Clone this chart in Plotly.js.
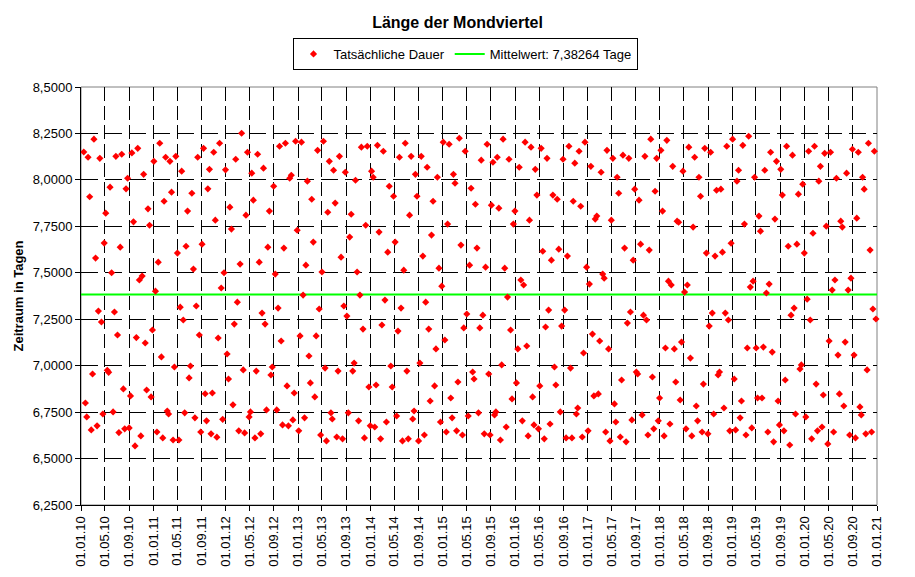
<!DOCTYPE html>
<html>
<head>
<meta charset="utf-8">
<script src="https://cdn.plot.ly/plotly-3.0.1.min.js"></script>
<style>
html,body{margin:0;padding:0;background:#ffffff;}
#chart{width:915px;height:577px;}
</style>
</head>
<body>
<div id="chart"></div>
<script>
// ---- Texts ----
const chartTitle = "Länge der Mondviertel";
const yAxisTitle = "Zeitraum in Tagen";
const seriesName = "Tatsächliche Dauer";
const meanValue = 7.38264;
const meanLabel = "Mittelwert: 7,38264 Tage";

// ---- Axis data ----
const axisStart = "2010-01-01";
const axisEnd = "2021-01-01";
const yMin = 6.25, yMax = 8.5, yStep = 0.25;
const firstQuarterDate = "2010-01-15";   // date of the first plotted quarter

// ---- Durations of consecutive moon quarters (days) ----
const durationsA = [8.150,6.799,6.724,8.122,7.909,6.654,6.955,8.219,7.579,6.676,7.294,8.116,7.235,6.740,7.660,7.821,6.975,6.964,7.961,7.500,6.751,7.289,8.127,7.165,6.640,7.638,8.138,6.875,6.660,7.952,8.009,6.665,6.837,8.145,7.774,6.568,7.151,8.170,7.461,6.622,7.482,8.030,7.122,6.869,7.844,7.756,6.832,7.192,8.100];
const durationsB = [7.401,6.643,7.557,8.197,7.047,6.611,7.885,8.122,6.756,6.740,8.100,7.934,6.600,6.993,8.127,7.606,6.600,7.315,8.047,7.246,6.746,7.643,7.832,6.934,6.998,7.928,7.520,6.719,7.321,8.122,7.165,6.643,7.654,8.170,6.849,6.703,7.952,8.057,6.633,6.853,8.149,7.783,6.615,7.149,8.197,7.418];
const durationsC = [6.711,7.500,8.054,7.063,6.928,7.853,7.735,6.789,7.224,8.111,7.342,6.649,7.547,8.251,6.977,6.638,7.810,8.149,6.724,6.751,8.036,7.891,6.611,6.971,8.138,7.557,6.633,7.283,8.063,7.224,6.762,7.638,7.832,6.950,6.993,7.966,7.493,6.762,7.310,8.181,7.133,6.681,7.633,8.197,6.891,6.676,8.009,8.025,6.708];
const durationsD = [6.853,8.208,7.729,6.649,7.160,8.203,7.380,6.719,7.541,7.993,7.052,6.907,7.896,7.665,6.832,7.160,8.159,7.305,6.627,7.504,8.208,6.987,6.595,7.826,8.100,6.746,6.713,8.052,7.875,6.616,6.971,8.127,7.584,6.606,7.321,8.041,7.267,6.746,7.692,7.815,6.971,7.014,7.998,7.504,6.703,7.380,8.176,7.197,6.611];
const durationsE = [7.756,8.181,6.885,6.676,8.047,8.014,6.670,6.896,8.186,7.719,6.606,7.219,8.154,7.353,6.697,7.611,7.966,6.998,6.885,7.912,7.665,6.729,7.186,8.122,7.310,6.595,7.514,8.197,6.971,6.606,7.810,8.127,6.713,6.756,8.030,7.912,6.595,7.014,8.127,7.590,6.627,7.342,8.068,7.197,6.810,7.703,7.885,6.891,7.090];
const durationsF = [8.014,7.525,6.697,7.428,8.203,7.138,6.643,7.762,8.192,6.826,6.719,8.030,7.982,6.649,6.912,8.224,7.649,6.627,7.203,8.154,7.278,6.729,7.541,7.955,6.966,6.928,7.869,7.633,6.746,7.203,8.106,7.272,6.633,7.530,8.192,6.955,6.627,7.864,8.095,6.735,6.751,8.122,7.848,6.600,7.004,8.219,7.525,6.670,7.369,8.111];
const durationsG = [7.192,6.821,7.762,7.832,6.907,7.090,8.068,7.461,6.703,7.434,8.203,7.106,6.622,7.783,8.176,6.832,6.681,8.057,7.918,6.660,6.891,8.170,7.616,6.606,7.208,8.116,7.299,6.686,7.568,7.918,6.993,6.896,7.896,7.627,6.751,7.213,8.111,7.299,6.611,7.590,8.181,6.987,6.611,7.885,8.090,6.740,6.772,8.154,7.858];
const durationsH = [6.616,7.068,8.203,7.530,6.649,7.439,8.073,7.170,6.837,7.789,7.805,6.848,7.133,8.041,7.493,7.471,6.643,8.159,7.090,6.595,7.783,8.116,6.794,6.697,8.014,7.928,6.616,6.923,8.133,7.633,6.590,7.229,8.116,7.289,6.708,7.568,7.950,6.966,6.955,7.891,7.654,6.735,7.272,8.127,7.246,6.627,7.622,8.219,6.939];
const durationsI = [6.660,7.939,8.116,6.703,6.826,8.159,7.832,6.622,7.095,8.213,7.455,6.686,7.434,8.073,7.090,6.912,7.778,7.772,6.815,7.127,8.047,7.396,6.660,7.434,8.176,7.041,6.622,7.746,8.122,6.783,6.703,8.014,7.912,6.643,6.901,8.170,7.606,6.633,7.213,8.149,7.283,6.740,7.590,7.944,6.950,6.966,7.950,7.611,6.772];
const durationsJ = [7.283,8.181,7.246,6.649,7.659,8.219,6.928,6.654,7.993,8.052,6.719,6.810,8.186,7.762,6.627,7.095,8.235,7.423,6.665,7.455,8.014,7.095,6.826,7.805,7.724,6.826,7.100,8.052,7.391,6.643,7.439,8.149,7.073,6.590,7.789,8.100,6.810,6.681,8.057,7.918,6.649,6.923,8.181,7.643,6.573,7.272,8.133,7.310,6.740,7.654];
const durationsK = [7.923,6.982,7.004,7.977,7.606,6.724,7.358,8.154,7.246,6.606,7.713,8.181,6.901,6.649,7.993,8.073,6.670,6.842,8.143,7.751,6.579,7.133,8.149,7.407,6.643,7.461,8.009,7.057,6.848,7.778,7.746,6.783,7.127,8.036,7.407,6.627,7.471,8.165,7.057,6.611,7.794,8.149,6.778,6.735,8.014,7.950,6.633,6.977,8.197,7.622,6.643,7.305,8.154,7.251];

const durations = [].concat(durationsA, durationsB, durationsC, durationsD, durationsE,
  durationsF, durationsG, durationsH, durationsI, durationsJ, durationsK);

// Each quarter starts where the previous one ended.
const DAY = 86400000;
const startMs = Date.parse(firstQuarterDate + "T00:00:00Z");
const quarterDates = [];
let t = startMs;
for (let i = 0; i < durations.length; i++) {
  quarterDates.push(t);
  t += durations[i] * DAY;
}

const meanTrace = {
  type: "scatter", mode: "lines",
  x: [axisStart, axisEnd], y: [meanValue, meanValue],
  name: meanLabel, legendrank: 2,
  line: {color: "#00FF00", width: 2},
  hoverinfo: "skip"
};
const pointTrace = {
  type: "scatter", mode: "markers",
  x: quarterDates, y: durations,
  name: seriesName, legendrank: 1,
  cliponaxis: false,
  marker: {symbol: "diamond", size: 5.5, color: "#FF0000", line: {width: 0}},
  hoverinfo: "skip"
};

const FONT = "Liberation Sans, Arial, Helvetica, sans-serif";
const layout = {
  width: 915, height: 577,
  margin: {l: 81, r: 38, t: 87, b: 72, pad: 0},
  paper_bgcolor: "#ffffff", plot_bgcolor: "#ffffff",
  separators: ",.",
  font: {family: FONT, size: 13, color: "#000000"},
  showlegend: true,
  hovermode: false,
  title: {
    text: "<b>" + chartTitle + "</b>",
    xref: "container", x: 0.5, xanchor: "center",
    yref: "container", y: 1 - 22 / 577, yanchor: "middle",
    font: {family: FONT, size: 16, color: "#000000"}
  },
  legend: {
    orientation: "h",
    x: (465 - 81) / 796, xanchor: "center",
    y: (505 - 38) / 418, yanchor: "top",
    bgcolor: "#ffffff", bordercolor: "#000000", borderwidth: 1,
    font: {family: FONT, size: 13, color: "#000000"},
    itemwidth: 30, tracegroupgap: 0
  },
  xaxis: {
    type: "date",
    range: [axisStart, axisEnd],
    tickmode: "linear", tick0: axisStart, dtick: "M4",
    tickformat: "%d.%m.%y", tickangle: -90,
    tickfont: {family: FONT, size: 13, color: "#000000"},
    ticks: "outside", ticklen: 5, tickwidth: 1, tickcolor: "#000000",
    showline: true, linecolor: "#000000", linewidth: 1,
    showgrid: true, gridcolor: "#000000", gridwidth: 1, griddash: "14px,5px",
    zeroline: false, automargin: false, fixedrange: true
  },
  yaxis: {
    range: [yMin, yMax],
    tickmode: "linear", tick0: yMin, dtick: yStep,
    tickformat: ".4f",
    tickfont: {family: FONT, size: 13, color: "#000000"},
    ticks: "outside", ticklen: 5, tickwidth: 1, tickcolor: "#000000",
    showline: true, linecolor: "#000000", linewidth: 1,
    showgrid: true, gridcolor: "#000000", gridwidth: 1, griddash: "17px,7px",
    zeroline: false, automargin: false, fixedrange: true,
    title: {text: "<b>" + yAxisTitle + "</b>", standoff: 6,
            font: {family: FONT, size: 13, color: "#000000"}}
  },
  shapes: [{
    type: "rect", xref: "paper", yref: "paper", x0: 0, x1: 1, y0: 0, y1: 1,
    line: {color: "#808080", width: 1}, fillcolor: "rgba(0,0,0,0)", layer: "between"
  }]
};

Plotly.newPlot("chart", [meanTrace, pointTrace], layout, {staticPlot: true, displayModeBar: false});
</script>
</body>
</html>
